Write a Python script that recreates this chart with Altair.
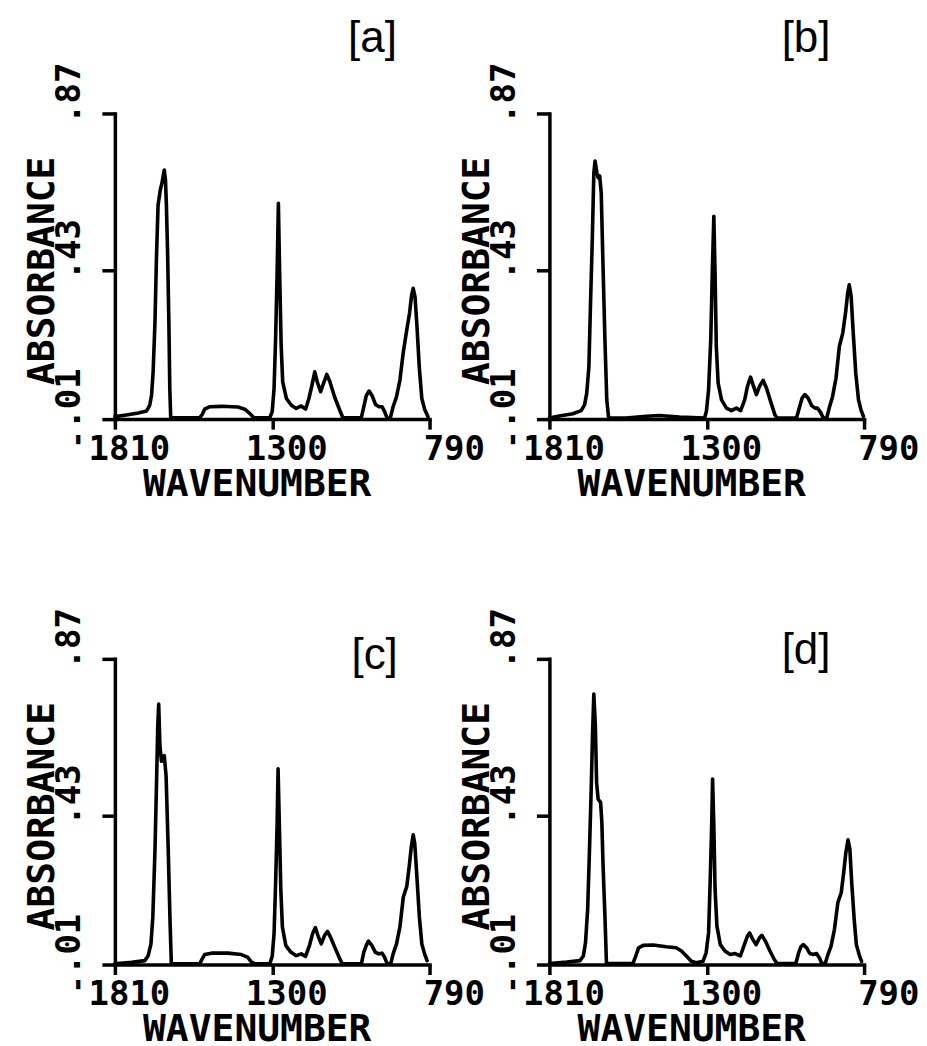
import altair as alt
import pandas as pd

# ---- data ----
wn_a = [1810,1778,1734,1707,1697,1691,1686,1680,1675,1670,1663,1657,1650,1646,1643,1639,1635,1632,1629,1583,
        1535,1527,1519,1502,1465,1411,1389,1373,1359,1308,1300,1294,1289,1284,1280,1276,1271,1266,1254,1238,
        1222,1206,1192,1181,1171,1162,1154,1143,1134,1123,1113,1098,1081,1071,1011,1003,995,986,976,965,
        954,944,936,927,917,908,897,886,875,864,855,848,843,837,831,823,815,806,795]
abs_a = [0.017,0.021,0.027,0.033,0.049,0.078,0.143,0.284,0.472,0.612,0.654,0.676,0.711,0.683,0.612,0.472,0.284,0.096,0.014,0.014,
         0.014,0.023,0.038,0.045,0.046,0.044,0.038,0.026,0.014,0.014,0.031,0.096,0.237,0.425,0.617,0.425,0.218,0.115,0.068,0.049,
         0.040,0.047,0.038,0.068,0.106,0.143,0.115,0.087,0.110,0.136,0.115,0.073,0.035,0.014,0.014,0.045,0.076,0.089,0.076,0.051,
         0.045,0.045,0.032,0.012,0.014,0.045,0.073,0.120,0.199,0.260,0.307,0.359,0.378,0.354,0.275,0.153,0.068,0.038,0.017]

wn_b = [1810,1778,1734,1707,1696,1689,1682,1677,1671,1666,1662,1656,1652,1647,1642,1637,1630,1624,1618,1561,
        1496,1453,1388,1307,1301,1294,1287,1282,1277,1273,1269,1263,1252,1236,1220,1204,1190,1177,1168,1158,
        1150,1139,1128,1117,1106,1093,1079,1072,1009,1000,991,982,971,960,949,941,931,922,911,903,
        892,881,870,859,850,843,838,832,825,817,808,800,792]
abs_b = [0.013,0.019,0.025,0.034,0.050,0.083,0.158,0.327,0.515,0.703,0.736,0.703,0.689,0.694,0.647,0.468,0.233,0.064,0.013,0.013,
         0.018,0.020,0.016,0.013,0.032,0.093,0.233,0.421,0.581,0.421,0.215,0.111,0.064,0.041,0.034,0.041,0.034,0.064,0.102,0.128,
         0.107,0.079,0.104,0.119,0.097,0.060,0.022,0.013,0.013,0.041,0.069,0.079,0.069,0.048,0.041,0.041,0.029,0.013,0.013,0.041,
         0.074,0.125,0.215,0.252,0.309,0.365,0.388,0.356,0.252,0.140,0.064,0.036,0.018]

wn_c = [1810,1756,1713,1702,1693,1687,1680,1675,1671,1668,1664,1659,1650,1644,1637,1631,1627,1535,1527,1519,
        1497,1443,1400,1380,1367,1357,1308,1300,1294,1289,1284,1281,1277,1272,1267,1256,1240,1222,1206,1192,
        1179,1169,1160,1152,1141,1130,1121,1111,1095,1081,1073,1011,1003,995,988,977,966,955,944,936,
        927,916,908,897,886,875,864,856,849,843,838,831,823,815,806,798]
abs_c = [0.012,0.016,0.021,0.035,0.068,0.144,0.332,0.521,0.681,0.743,0.625,0.582,0.598,0.540,0.332,0.125,0.012,0.012,0.026,0.038,
         0.042,0.042,0.038,0.031,0.017,0.012,0.012,0.033,0.097,0.238,0.408,0.561,0.408,0.219,0.116,0.064,0.045,0.035,0.040,0.033,
         0.064,0.097,0.114,0.092,0.068,0.092,0.103,0.087,0.054,0.026,0.012,0.012,0.045,0.064,0.076,0.064,0.045,0.040,0.042,0.031,
         0.012,0.012,0.040,0.068,0.116,0.200,0.229,0.285,0.342,0.375,0.351,0.257,0.144,0.068,0.040,0.021]

wn_d = [1810,1754,1711,1700,1693,1686,1680,1674,1670,1666,1661,1657,1652,1644,1640,1636,1630,1625,1539,1530,
        1521,1506,1474,1431,1399,1382,1366,1350,1334,1312,1302,1294,1289,1284,1281,1277,1273,1267,1256,1241,
        1224,1208,1191,1178,1168,1161,1151,1140,1129,1121,1110,1095,1081,1072,1011,1002,995,987,976,966,
        955,944,935,927,916,907,897,886,875,864,856,849,842,836,830,822,815,806,798]
abs_d = [0.013,0.017,0.021,0.034,0.071,0.165,0.334,0.522,0.663,0.771,0.682,0.522,0.475,0.466,0.410,0.287,0.146,0.013,0.013,0.034,
         0.057,0.064,0.065,0.060,0.057,0.048,0.034,0.019,0.015,0.019,0.043,0.099,0.240,0.400,0.532,0.400,0.222,0.118,0.066,0.048,
         0.038,0.041,0.034,0.066,0.090,0.099,0.081,0.066,0.085,0.092,0.076,0.048,0.024,0.013,0.013,0.043,0.060,0.066,0.057,0.041,
         0.038,0.041,0.029,0.013,0.013,0.038,0.062,0.109,0.184,0.212,0.269,0.325,0.361,0.334,0.240,0.137,0.066,0.038,0.019]

panel_names = ["[a]", "[b]", "[c]", "[d]"]
panel_label_wn = [975, 978, 968, 978]
panel_label_abs = [1.08, 1.08, 0.878, 0.892]

x_tick_values = [1810, 1300, 790]
x_tick_labels = ["'1810", "1300", "790"]
y_tick_values = [0.01, 0.43, 0.87]
y_tick_labels = [".01", ".43", ".87"]

MONO = "DejaVu Sans Mono"


def label_expr(values, labels):
    expr = '""'
    for v, l in reversed(list(zip(values, labels))):
        expr = f'abs(datum.value - {v}) < 1e-6 ? "{l}" : ({expr})'
    return expr


def panel(wn, ab, name, lx, ly):
    df = pd.DataFrame({"wn": wn, "abs": ab})
    df["i"] = range(len(df))
    xenc = alt.X(
        "wn:Q",
        scale=alt.Scale(domain=[790, 1810], reverse=True, nice=False, zero=False),
        axis=alt.Axis(
            values=x_tick_values, labelExpr=label_expr(x_tick_values, x_tick_labels),
            title="WAVENUMBER", grid=False,
            domainColor="black", domainWidth=3.5, domainCap="square",
            tickColor="black", tickWidth=3.5, tickSize=10,
            labelFont=MONO, labelFontSize=34, labelFontWeight="bold", labelColor="black",
            labelAlign="right", labelBaseline="top", labelOffset=55, labelPadding=3,
            labelFlush=False, labelOverlap=False,
            titleFont=MONO, titleFontSize=38, titleFontWeight="bold", titleColor="black",
            titleX=142, titleY=46, titleAlign="center", titleBaseline="top",
        ),
    )
    yenc = alt.Y(
        "abs:Q",
        scale=alt.Scale(domain=[0.01, 0.87], nice=False, zero=False),
        axis=alt.Axis(
            values=y_tick_values, labelExpr=label_expr(y_tick_values, y_tick_labels),
            title="ABSORBANCE", grid=False,
            domainColor="black", domainWidth=3.5, domainCap="square",
            tickColor="black", tickWidth=3.5, tickSize=13,
            labelFont=MONO, labelFontSize=34, labelFontWeight="bold", labelColor="black",
            labelAngle=270, labelAlign="left", labelBaseline="alphabetic",
            labelPadding=22, labelOffset=10,
            labelFlush=False, labelOverlap=False,
            titleFont=MONO, titleFontSize=38, titleFontWeight="bold", titleColor="black",
            titleAngle=270, titleX=-61, titleY=157, titleAlign="center", titleBaseline="alphabetic",
        ),
    )
    line = alt.Chart(df).mark_line(
        color="black", strokeWidth=3.6, strokeJoin="round", strokeCap="round"
    ).encode(x=xenc, y=yenc, order="i:Q")
    lab = alt.Chart(pd.DataFrame({"wn": [lx], "abs": [ly], "t": [name]})).mark_text(
        font="Liberation Sans", fontSize=44, align="center", baseline="middle", color="black"
    ).encode(x="wn:Q", y="abs:Q", text="t:N")
    return alt.layer(line, lab).properties(width=315, height=306)


series = [(wn_a, abs_a), (wn_b, abs_b), (wn_c, abs_c), (wn_d, abs_d)]
panels = [panel(w, a, n, lx, ly) for (w, a), n, lx, ly in
          zip(series, panel_names, panel_label_wn, panel_label_abs)]

chart = alt.concat(
    *panels, columns=2, bounds="flush",
    spacing=alt.RowColnumber(row=240, column=120),
).properties(
    padding={"left": 15, "top": 8, "right": 0, "bottom": 6},
    background="white",
).configure_view(strokeWidth=0)

chart.save("out.html", embed_options={"renderer": "svg", "actions": False})
